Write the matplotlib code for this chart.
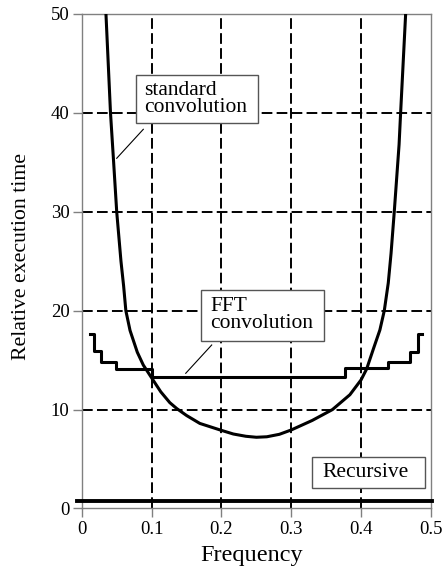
import matplotlib
matplotlib.use("Agg")
import matplotlib.pyplot as plt
from matplotlib.patches import Rectangle

plt.rcParams['font.family'] = ['Liberation Serif', 'DejaVu Serif']

# standard convolution
std_f = [0.0345, 0.041, 0.0455, 0.0499, 0.056, 0.0598, 0.063, 0.069, 0.0794,
         0.088, 0.100, 0.113, 0.126, 0.136, 0.150, 0.169, 0.198, 0.217,
         0.235, 0.250, 0.265, 0.283, 0.300, 0.330, 0.359, 0.384, 0.400,
         0.408, 0.418, 0.427, 0.4333, 0.439, 0.443, 0.4476, 0.4545, 0.4567,
         0.4639]
std_t = [50, 40, 35, 30, 25, 22.5, 20, 18, 15.8,
         14.5, 13.2, 11.8, 10.7, 10.1, 9.4, 8.6, 7.94, 7.53,
         7.3, 7.2, 7.25, 7.5, 7.94, 8.9, 10.0, 11.5, 13.0,
         14.1, 16.2, 18.05, 20, 22.8, 25.8, 30, 36.8, 40,
         50]

# FFT convolution (step edges and levels)
fft_f = [0.011, 0.0175, 0.027, 0.049, 0.100, 0.377, 0.439, 0.470, 0.481, 0.488]
fft_t = [17.6, 15.9, 14.85, 14.1, 13.3, 14.2, 14.85, 15.85, 17.6, 17.6]

# recursive
rec_f = [-0.007, 0.501]
rec_t = [0.76, 0.76]

xticks = [0, 0.1, 0.2, 0.3, 0.4, 0.5]
xlabels = ['0', '0.1', '0.2', '0.3', '0.4', '0.5']
yticks = [0, 10, 20, 30, 40, 50]

fig = plt.figure(figsize=(4.46, 5.71), dpi=100)
ax = fig.add_axes([0.1836, 0.1095, 0.7824, 0.866])

ax.set_xlim(0, 0.5)
ax.set_ylim(0, 50)

# dashed grid
for x in xticks[1:-1]:
    ax.plot([x, x], [0, 50], color='black', lw=1.4, ls=(0, (5.5, 2.2)), zorder=1)
for y in yticks[1:-1]:
    ax.plot([0, 0.5], [y, y], color='black', lw=1.4, ls=(0, (5.5, 2.2)), zorder=1)

ax.plot(std_f, std_t, color='black', lw=2.2, zorder=3)
ax.plot(fft_f, fft_t, color='black', lw=2.2, drawstyle='steps-post', zorder=3)
ax.plot(rec_f, rec_t, color='black', lw=2.8, clip_on=False, zorder=3)

# labels with boxes
boxes = [
    (0.0771, 39.0, 0.1757, 4.8, 0.089, 41.4, 'standard\nconvolution', 'left'),
    (0.1707, 16.97, 0.1762, 5.12, 0.1836, 19.53, 'FFT\nconvolution', 'left'),
    (0.3302, 2.04, 0.1615, 3.2, 0.4064, 3.64, 'Recursive', 'center'),
]
for bx, by, bw, bh, tx, ty, txt, ha in boxes:
    ax.add_patch(Rectangle((bx, by), bw, bh, facecolor='white',
                           edgecolor='#555555', lw=1.0, zorder=4))
    ax.text(tx, ty, txt, fontsize=15.5, ha=ha, va='center',
            linespacing=0.85, zorder=5)

# leader lines
ax.plot([0.088, 0.0499], [38.34, 35.41], color='black', lw=0.8, zorder=4)
ax.plot([0.186, 0.1488], [16.53, 13.67], color='black', lw=0.8, zorder=4)

ax.set_xticks(xticks)
ax.set_xticklabels(xlabels)
ax.set_yticks(yticks)
ax.tick_params(direction='out', length=6.5, width=1, color='#808080',
               labelsize=13.5, pad=2.5)
for s in ax.spines.values():
    s.set_color('#808080')
    s.set_linewidth(1)

fig.text(22 / 446, 1 - 256.7 / 571, 'Relative execution time', rotation=90,
         fontsize=15.7, ha='center', va='center')
fig.text(252 / 446, 1 - 555 / 571, 'Frequency', fontsize=17.5,
         ha='center', va='center')

fig.savefig('out.png', dpi=100)
